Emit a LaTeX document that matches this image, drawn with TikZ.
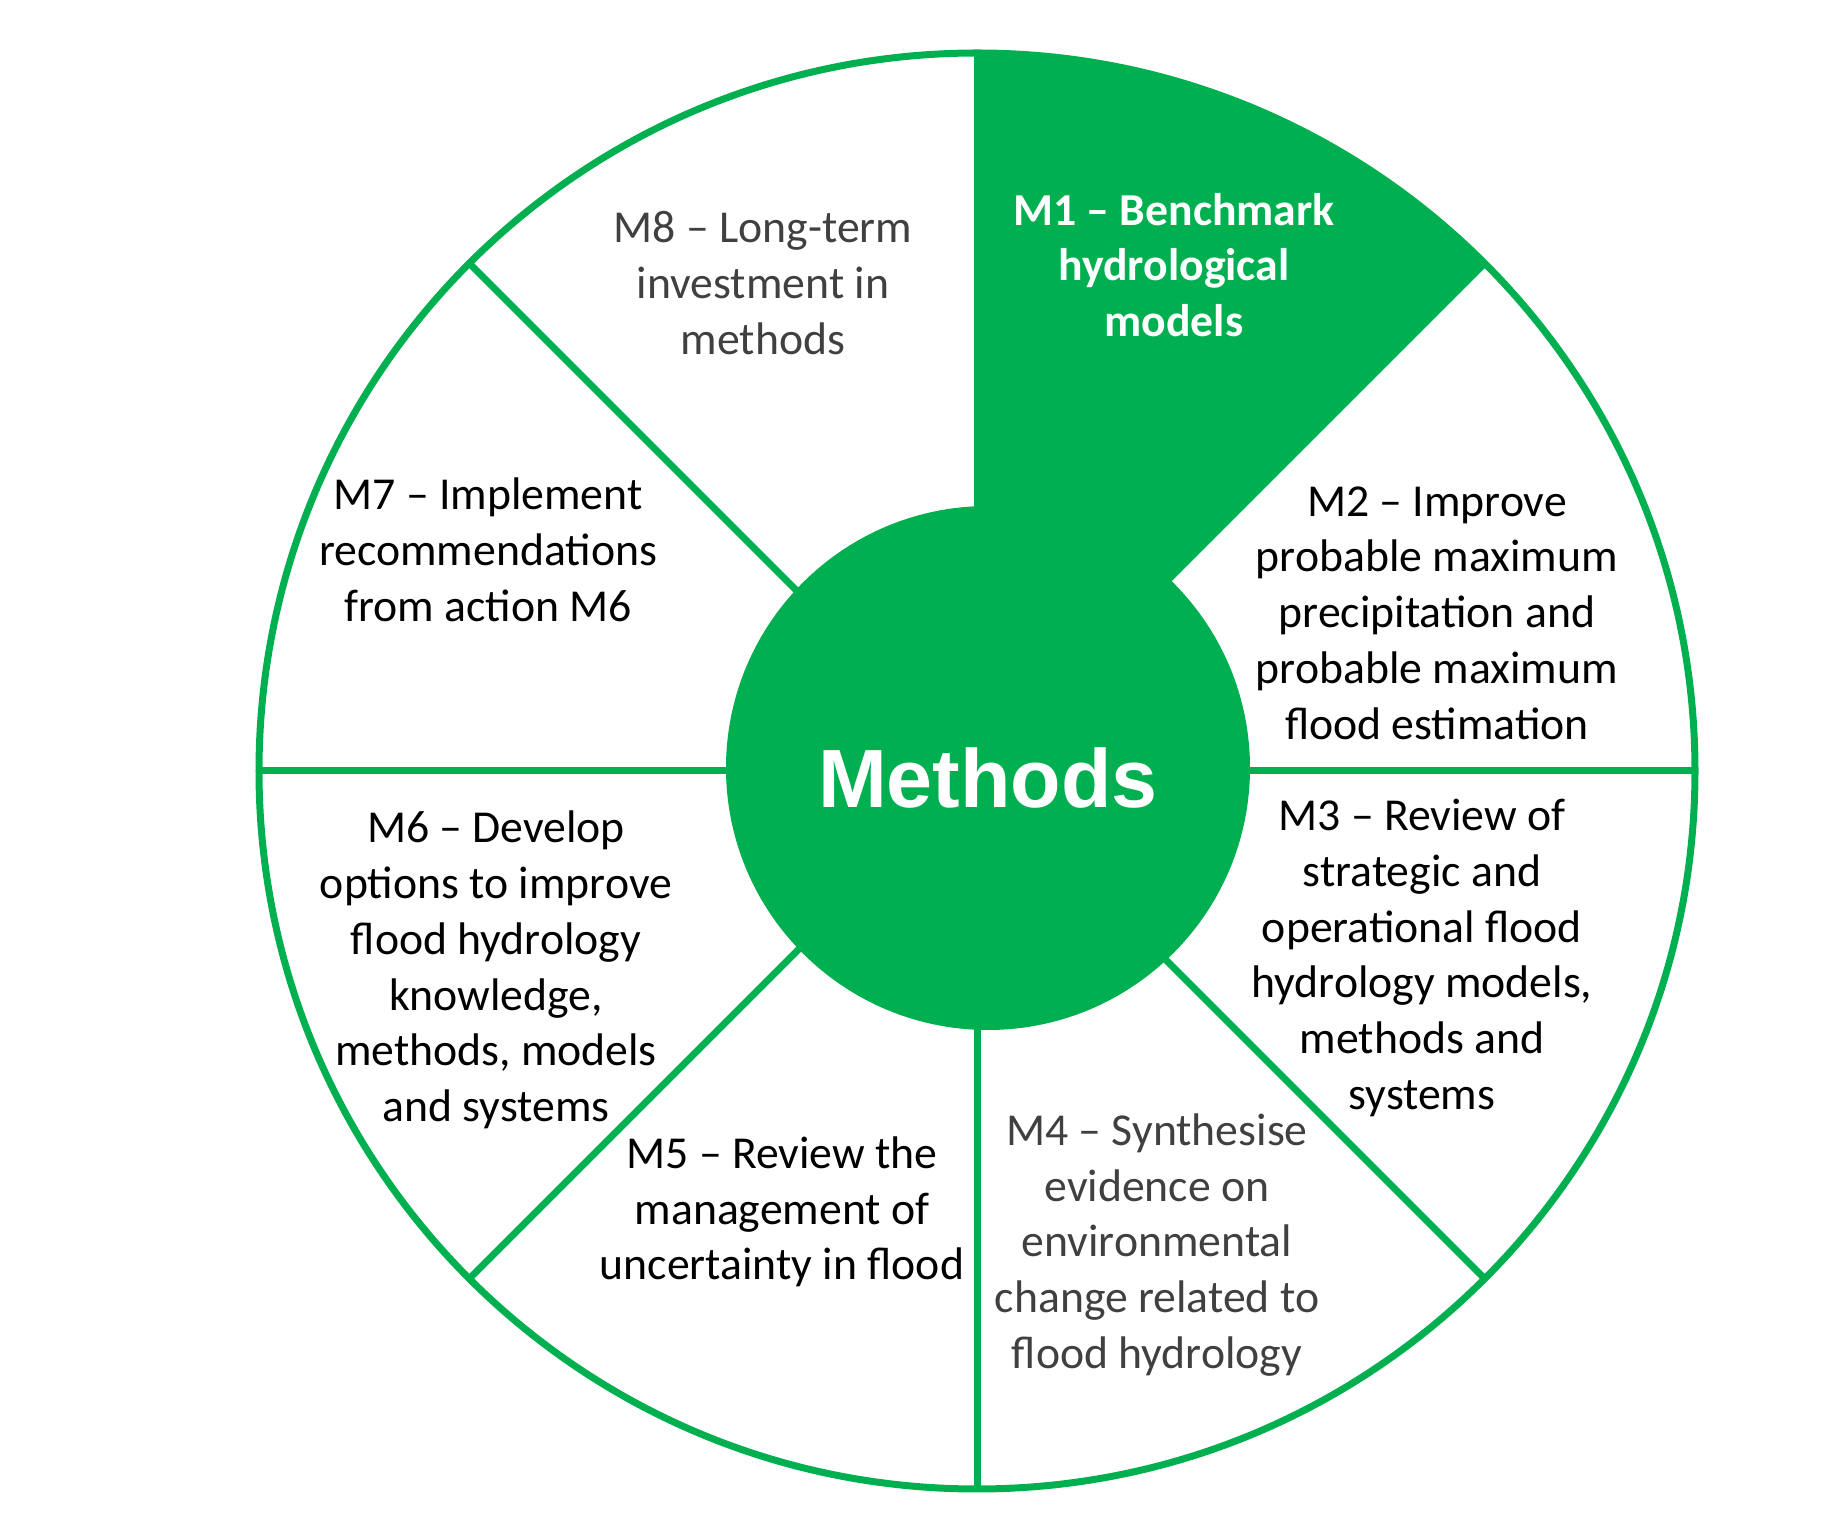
\documentclass[tikz,border=0pt]{standalone}
\usepackage{fontspec}
\setmainfont{Carlito}
\newfontfamily\headfont{Liberation Sans}
\definecolor{mgreen}{HTML}{00B050}
\definecolor{mgray}{HTML}{404040}
\begin{document}
\begin{tikzpicture}[x=0.01cm,y=-0.01cm,
  seg/.style={draw=mgreen, line width=0.07cm},
  lbl/.style={align=center, font=\fontsize{13}{15.85}\selectfont, inner sep=0pt, text=black},
  graylbl/.style={lbl, text=mgray},
  hilbl/.style={lbl, text=white, font=\fontsize{13}{15.85}\selectfont\bfseries},
  hubtext/.style={text=white, font=\headfont\bfseries\fontsize{23.5}{28}\selectfont, inner sep=0pt}]
\useasboundingbox (0,0) rectangle (1838,1534);
\coordinate (O) at (977,771);
\coordinate (hub) at (988,768);
% highlighted segment M1
\fill[mgreen] (O) -- (977,53) arc[start angle=-90, end angle=-45, radius=718] -- cycle;
% outer ring
\draw[seg] (O) circle[radius=718];
% dividers
\foreach \a in {0,45,...,315} \draw[seg] (O) -- ++(\a:718);
% centre disc
\fill[mgreen] (hub) circle[radius=262];
\node[hubtext] (methods) at (988,778) {Methods};
% labels
\node[hilbl] (m1) at (1174,265) {M1 – Benchmark\\hydrological\\models};
\node[lbl] (m2) at (1437,613) {M2 – Improve\\probable maximum\\precipitation and\\probable maximum\\flood estimation};
\node[lbl] (m3) at (1422,958) {M3 – Review of\\strategic and\\operational flood\\hydrology models,\\methods and\\systems};
\node[graylbl] (m4) at (1157,1245) {M4 – Synthesise\\evidence on\\environmental\\change related to\\flood hydrology};
\node[lbl] (m5) at (782,1212) {M5 – Review the\\management of\\uncertainty in flood};
\node[lbl] (m6) at (496,970) {M6 – Develop\\options to improve\\flood hydrology\\knowledge,\\methods, models\\and systems};
\node[lbl] (m7) at (488,550) {M7 – Implement\\recommendations\\from action M6};
\node[graylbl] (m8) at (763,283) {M8 – Long-term\\investment in\\methods};
\end{tikzpicture}
\end{document}
